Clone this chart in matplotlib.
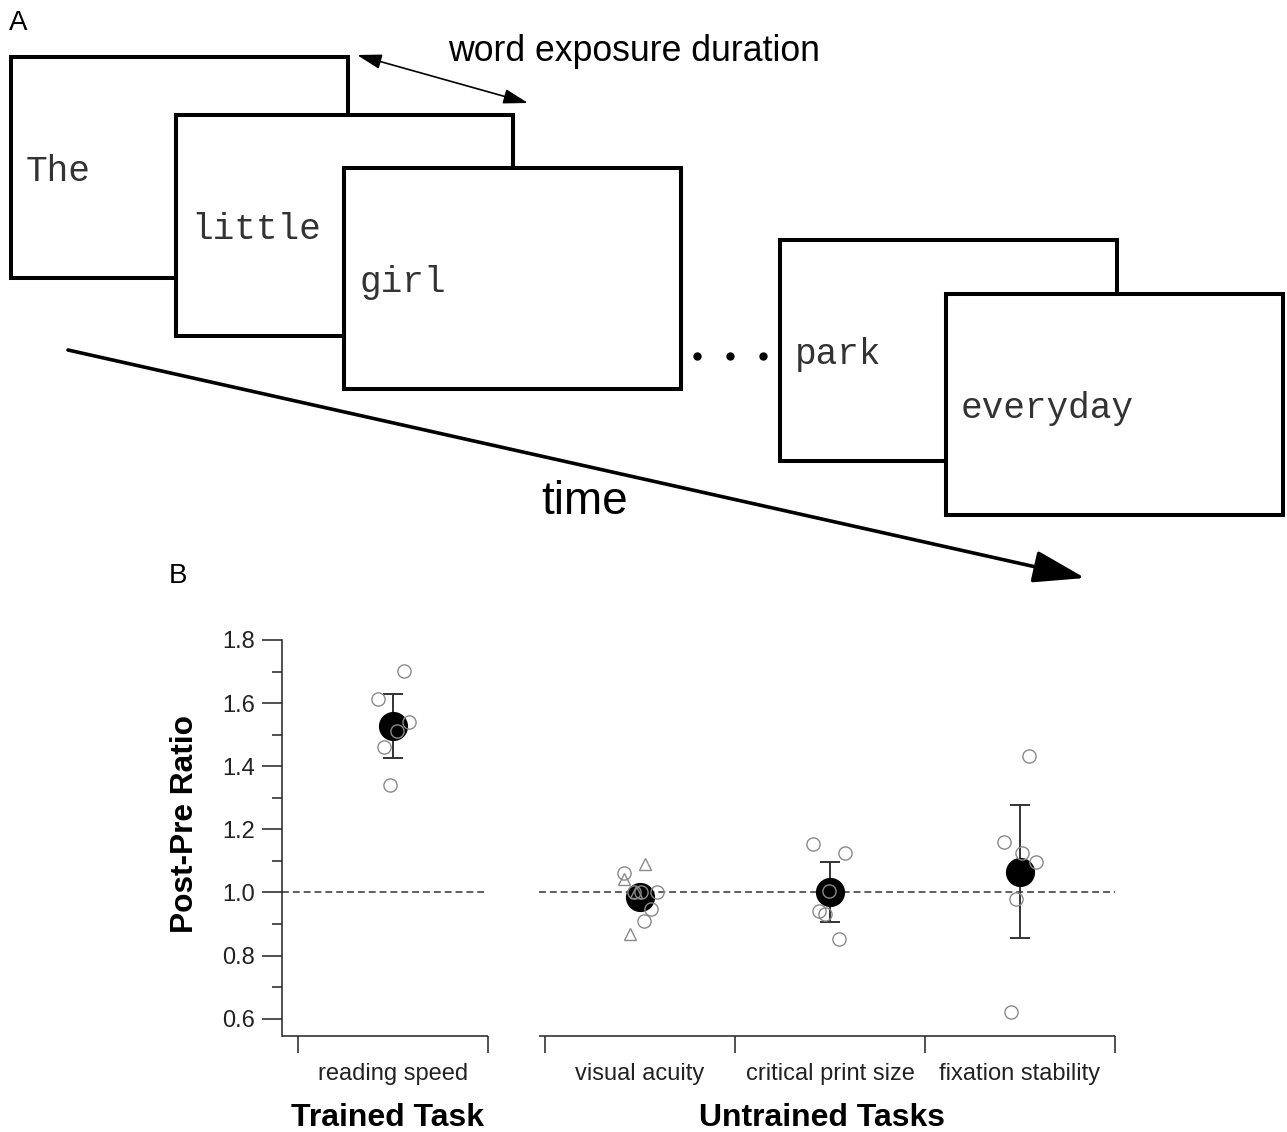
import matplotlib
matplotlib.use('Agg')
import matplotlib.pyplot as plt
from matplotlib.patches import Rectangle, FancyArrowPatch
from matplotlib.transforms import blended_transform_factory

W, H = 1287, 1132

# ---------------- data (panel B) ----------------
categories = ['reading speed', 'visual acuity', 'critical print size', 'fixation stability']
group_labels = ['Trained Task', 'Untrained Tasks']
means = [1.527, 0.985, 1.000, 1.066]
errors = [0.102, 0.030, 0.095, 0.212]

reading_speed_vals = [1.702, 1.613, 1.540, 1.511, 1.460, 1.340]
visual_acuity_circle_vals = [1.060, 1.000, 1.000, 1.000, 0.946, 0.908]
visual_acuity_triangle_vals = [1.041, 1.089, 0.867, 1.000]
critical_print_vals = [1.152, 1.124, 1.003, 0.940, 0.933, 0.851]
fixation_vals = [1.432, 1.159, 1.124, 1.098, 0.978, 0.622]

# horizontal jitter of the individual points (category-width units)
reading_speed_jit = [0.058, -0.079, 0.084, 0.021, -0.047, -0.016]
visual_acuity_circle_jit = [-0.084, -0.032, 0.005, 0.089, 0.058, 0.021]
visual_acuity_triangle_jit = [-0.084, 0.026, -0.053, -0.021]
critical_print_jit = [-0.089, 0.079, -0.005, -0.058, -0.026, 0.047]
fixation_jit = [0.047, -0.084, 0.011, 0.084, -0.021, -0.047]

y_ticks = [0.6, 0.8, 1.0, 1.2, 1.4, 1.6, 1.8]
y_tick_labels = ['0.6', '0.8', '1.0', '1.2', '1.4', '1.6', '1.8']
reference_ratio = 1.0

# panel A words
words = ['The', 'little', 'girl', 'park', 'everyday']

# ---------------- layout ----------------
cat_pos = [0.5, 1.8, 2.8, 3.8]
tick_pos = [0.0, 1.0, 1.3, 2.3, 3.3, 4.3]
x_left, x_right = -0.084, 4.3
seg_left = (x_left, 1.0)
seg_right = (1.268, 4.3)

plt.rcParams['font.family'] = ['Liberation Sans', 'DejaVu Sans']

fig = plt.figure(figsize=(W / 100, H / 100), dpi=100)
fig.patch.set_facecolor('white')

# overlay axes in pixel coordinates for the diagram (panel A) and labels
ax0 = fig.add_axes([0, 0, 1, 1])
ax0.set_xlim(0, W)
ax0.set_ylim(H, 0)
ax0.axis('off')

mono = ['Liberation Mono', 'DejaVu Sans Mono']
rects = [(11, 57), (176, 115), (344, 168), (780, 240), (946, 294)]
rw, rh = 337, 221
for i, ((rx, ry), w) in enumerate(zip(rects, words)):
    ax0.add_patch(Rectangle((rx, ry), rw, rh, facecolor='white', edgecolor='black',
                            lw=2.9, zorder=2 + i * 2))
    ax0.text(rx + 15, ry + 124, w, family=mono, fontsize=26, color='#333333',
             ha='left', va='baseline', zorder=3 + i * 2)

ax0.plot([697, 730, 763], [356, 356, 356], 'o', ms=5, color='black', zorder=2)

# time arrow
ax0.add_patch(FancyArrowPatch((68, 350), (1085, 578),
                              arrowstyle='-|>,head_length=1.6,head_width=0.5',
                              mutation_scale=20, lw=2.6, color='black',
                              shrinkA=0, shrinkB=0, zorder=1))
ax0.text(585, 514, 'time', fontsize=33, ha='center', va='baseline', color='black')

# word exposure duration double arrow
ax0.add_patch(FancyArrowPatch((357, 55), (528, 103),
                              arrowstyle='<|-|>,head_length=1.5,head_width=0.45',
                              mutation_scale=10, lw=1.2, color='black',
                              shrinkA=0, shrinkB=0, zorder=20))
ax0.text(448, 61, 'word exposure duration', fontsize=25.7, ha='left', va='baseline',
         color='black')

ax0.text(9, 30, 'A', fontsize=20, ha='left', va='baseline')
ax0.text(169, 583, 'B', fontsize=20, ha='left', va='baseline')

# ---------------- panel B chart ----------------
ax = fig.add_axes([282 / W, (H - 1036) / H, (1115 - 282) / W, (1036 - 640) / H])
ax.patch.set_alpha(0)
ax.set_xlim(x_left, x_right)
ax.set_ylim(0.545, 1.8)

grey = '#8a8a8a'
dark = '#222222'

for (a, b) in (seg_left, seg_right):
    ax.hlines(reference_ratio, a, b, colors='#333333', lw=1.1,
              linestyles=(0, (4.5, 2.6)), zorder=1)

ax.errorbar(cat_pos, means, yerr=errors, fmt='none', ecolor='#333333',
            elinewidth=1.4, capsize=7.5, capthick=1.4, zorder=2)
ax.plot(cat_pos, means, 'o', ms=20, color='black', mec='black', zorder=3,
        clip_on=False)

point_sets = [
    (cat_pos[0], reading_speed_vals, reading_speed_jit),
    (cat_pos[1], visual_acuity_circle_vals, visual_acuity_circle_jit),
    (cat_pos[2], critical_print_vals, critical_print_jit),
    (cat_pos[3], fixation_vals, fixation_jit),
]
for cx, vals, jit in point_sets:
    ax.plot([cx + j for j in jit], vals, 'o', ms=9.5, mfc='none', mec=grey,
            mew=1.0, zorder=4, clip_on=False)
ax.plot([cat_pos[1] + j for j in visual_acuity_triangle_jit],
        visual_acuity_triangle_vals, '^', ms=8, mfc='none', mec=grey,
        mew=1.0, zorder=4, clip_on=False)

# axes styling
for s in ('top', 'right', 'bottom'):
    ax.spines[s].set_visible(False)
ax.spines['left'].set_color(dark)
ax.spines['left'].set_linewidth(1.1)

trans = blended_transform_factory(ax.transData, ax.transAxes)
for (a, b) in (seg_left, seg_right):
    ax.plot([a, b], [0, 0], color=dark, lw=1.1, transform=trans, clip_on=False,
            solid_capstyle='butt')

ax.set_yticks(y_ticks)
ax.set_yticklabels(y_tick_labels)
ax.set_yticks([0.7, 0.9, 1.1, 1.3, 1.5, 1.7], minor=True)
ax.tick_params(axis='y', which='major', direction='out', length=14.4, width=1.1,
               color=dark, labelsize=17, pad=5, labelcolor='#222222')
ax.tick_params(axis='y', which='minor', direction='out', length=7.2, width=1.1,
               color=dark)

ax.set_xticks(tick_pos)
ax.set_xticklabels([''] * len(tick_pos))
ax.set_xticks(cat_pos, minor=True)
ax.set_xticklabels(categories, minor=True)
ax.tick_params(axis='x', which='major', direction='out', length=12, width=1.1,
               color=dark)
ax.tick_params(axis='x', which='minor', length=0, pad=19.5, labelsize=17,
               labelcolor='#222222')

# y label placed at its position in the reference
ax0.text(185, 824, 'Post-Pre Ratio', fontsize=22.8, fontweight='bold',
         rotation=90, ha='center', va='center', color='black')

group_centers = [0.47, 2.76]
for gc, gl in zip(group_centers, group_labels):
    ax.text(gc, -0.227, gl, transform=trans, fontsize=23, fontweight='bold',
            ha='center', va='baseline', color='black')

fig.savefig('out.png', dpi=100, facecolor='white')
